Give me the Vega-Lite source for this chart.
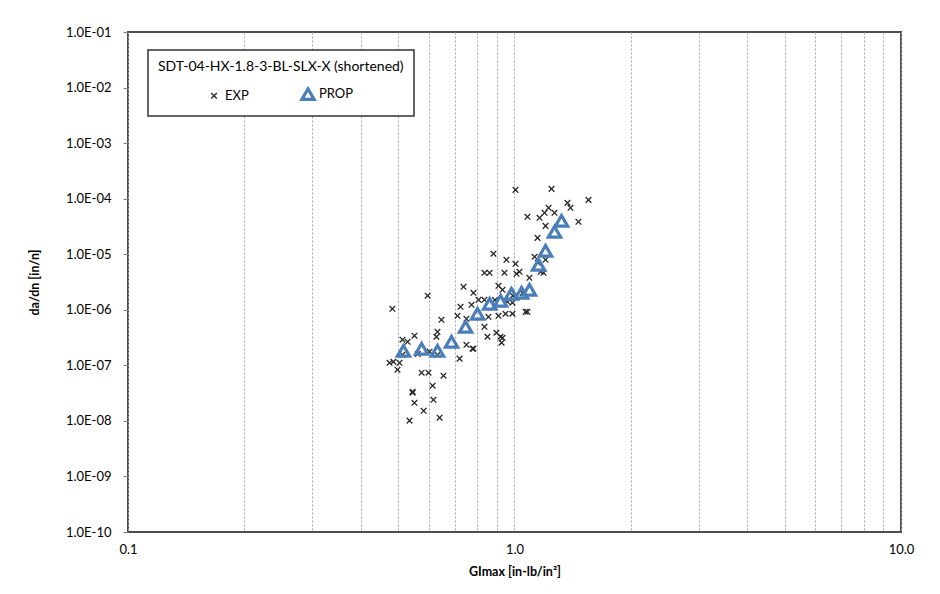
{
  "$schema": "https://vega.github.io/schema/vega-lite/v6.json",
  "autosize": {"type": "none"},
  "width": 773,
  "height": 500,
  "padding": {"left": 128, "top": 32, "right": 39, "bottom": 62},
  "background": "white",
  "config": {
    "font": "Lato",
    "view": {"stroke": "#4d4d4d", "strokeWidth": 2},
    "axis": {"labelFont": "Lato", "titleFont": "Lato", "labelColor": "#000", "titleColor": "#000", "labelFontSize": 13, "titleFontSize": 12.5, "titleFontWeight": "bold"},
    "legend": {
      "orient": "none",
      "legendX": 20,
      "legendY": 18,
      "direction": "horizontal",
      "columns": 2,
      "padding": 10,
      "strokeColor": "#333",
      "strokeWidth": 1.5,
      "fillColor": "white",
      "titleFont": "Lato",
      "titleFontSize": 14,
      "titleFontWeight": "normal",
      "titleColor": "#000",
      "titleLimit": 400,
      "titlePadding": 12,
      "labelFont": "Lato",
      "labelFontSize": 13,
      "labelColor": "#000",
      "symbolOffset": 48,
      "labelOffset": 3,
      "columnPadding": 3
    }
  },
  "data": {
    "values": [
      {"g": 1.006, "dadn": 1.44e-4, "series": "EXP"},
      {"g": 1.247, "dadn": 1.50e-4, "series": "EXP"},
      {"g": 1.554, "dadn": 9.51e-5, "series": "EXP"},
      {"g": 1.371, "dadn": 8.40e-5, "series": "EXP"},
      {"g": 1.396, "dadn": 6.84e-5, "series": "EXP"},
      {"g": 1.080, "dadn": 4.71e-5, "series": "EXP"},
      {"g": 1.161, "dadn": 4.52e-5, "series": "EXP"},
      {"g": 1.196, "dadn": 5.56e-5, "series": "EXP"},
      {"g": 1.225, "dadn": 6.84e-5, "series": "EXP"},
      {"g": 1.269, "dadn": 5.56e-5, "series": "EXP"},
      {"g": 1.464, "dadn": 3.83e-5, "series": "EXP"},
      {"g": 1.203, "dadn": 3.24e-5, "series": "EXP"},
      {"g": 1.147, "dadn": 1.97e-5, "series": "EXP"},
      {"g": 1.127, "dadn": 8.98e-6, "series": "EXP"},
      {"g": 1.203, "dadn": 7.93e-6, "series": "EXP"},
      {"g": 1.168, "dadn": 4.83e-6, "series": "EXP"},
      {"g": 1.189, "dadn": 4.63e-6, "series": "EXP"},
      {"g": 1.150, "dadn": 7.0e-6, "series": "EXP"},
      {"g": 0.882, "dadn": 1.02e-5, "series": "EXP"},
      {"g": 0.953, "dadn": 7.93e-6, "series": "EXP"},
      {"g": 1.006, "dadn": 6.72e-6, "series": "EXP"},
      {"g": 0.836, "dadn": 4.63e-6, "series": "EXP"},
      {"g": 0.862, "dadn": 4.63e-6, "series": "EXP"},
      {"g": 0.942, "dadn": 4.63e-6, "series": "EXP"},
      {"g": 1.012, "dadn": 4.44e-6, "series": "EXP"},
      {"g": 1.030, "dadn": 4.83e-6, "series": "EXP"},
      {"g": 1.093, "dadn": 3.76e-6, "series": "EXP"},
      {"g": 0.909, "dadn": 2.70e-6, "series": "EXP"},
      {"g": 0.931, "dadn": 2.29e-6, "series": "EXP"},
      {"g": 0.738, "dadn": 2.59e-6, "series": "EXP"},
      {"g": 0.783, "dadn": 2.02e-6, "series": "EXP"},
      {"g": 0.596, "dadn": 1.79e-6, "series": "EXP"},
      {"g": 0.807, "dadn": 1.51e-6, "series": "EXP"},
      {"g": 0.836, "dadn": 1.51e-6, "series": "EXP"},
      {"g": 0.890, "dadn": 1.50e-6, "series": "EXP"},
      {"g": 0.990, "dadn": 1.80e-6, "series": "EXP"},
      {"g": 1.050, "dadn": 2.00e-6, "series": "EXP"},
      {"g": 0.725, "dadn": 1.13e-6, "series": "EXP"},
      {"g": 0.774, "dadn": 1.23e-6, "series": "EXP"},
      {"g": 0.712, "dadn": 7.80e-7, "series": "EXP"},
      {"g": 0.856, "dadn": 7.48e-7, "series": "EXP"},
      {"g": 0.909, "dadn": 7.80e-7, "series": "EXP"},
      {"g": 0.948, "dadn": 8.48e-7, "series": "EXP"},
      {"g": 0.988, "dadn": 8.48e-7, "series": "EXP"},
      {"g": 1.068, "dadn": 9.21e-7, "series": "EXP"},
      {"g": 1.080, "dadn": 9.21e-7, "series": "EXP"},
      {"g": 0.483, "dadn": 1.04e-6, "series": "EXP"},
      {"g": 0.647, "dadn": 6.61e-7, "series": "EXP"},
      {"g": 0.751, "dadn": 6.89e-7, "series": "EXP"},
      {"g": 0.959, "dadn": 1.39e-6, "series": "EXP"},
      {"g": 0.988, "dadn": 1.34e-6, "series": "EXP"},
      {"g": 0.836, "dadn": 4.94e-7, "series": "EXP"},
      {"g": 0.898, "dadn": 3.86e-7, "series": "EXP"},
      {"g": 0.920, "dadn": 3.27e-7, "series": "EXP"},
      {"g": 0.931, "dadn": 3.13e-7, "series": "EXP"},
      {"g": 0.926, "dadn": 2.55e-7, "series": "EXP"},
      {"g": 0.851, "dadn": 3.27e-7, "series": "EXP"},
      {"g": 0.751, "dadn": 2.34e-7, "series": "EXP"},
      {"g": 0.779, "dadn": 1.99e-7, "series": "EXP"},
      {"g": 0.783, "dadn": 1.99e-7, "series": "EXP"},
      {"g": 0.632, "dadn": 4.02e-7, "series": "EXP"},
      {"g": 0.628, "dadn": 3.27e-7, "series": "EXP"},
      {"g": 0.551, "dadn": 3.41e-7, "series": "EXP"},
      {"g": 0.529, "dadn": 2.65e-7, "series": "EXP"},
      {"g": 0.513, "dadn": 2.89e-7, "series": "EXP"},
      {"g": 0.513, "dadn": 1.55e-7, "series": "EXP"},
      {"g": 0.632, "dadn": 1.55e-7, "series": "EXP"},
      {"g": 0.562, "dadn": 1.60e-7, "series": "EXP"},
      {"g": 0.475, "dadn": 1.11e-7, "series": "EXP"},
      {"g": 0.486, "dadn": 1.16e-7, "series": "EXP"},
      {"g": 0.498, "dadn": 8.34e-8, "series": "EXP"},
      {"g": 0.504, "dadn": 1.11e-7, "series": "EXP"},
      {"g": 0.603, "dadn": 1.76e-7, "series": "EXP"},
      {"g": 0.721, "dadn": 1.32e-7, "series": "EXP"},
      {"g": 0.575, "dadn": 7.36e-8, "series": "EXP"},
      {"g": 0.599, "dadn": 7.36e-8, "series": "EXP"},
      {"g": 0.655, "dadn": 6.50e-8, "series": "EXP"},
      {"g": 0.614, "dadn": 4.30e-8, "series": "EXP"},
      {"g": 0.545, "dadn": 3.35e-8, "series": "EXP"},
      {"g": 0.545, "dadn": 3.21e-8, "series": "EXP"},
      {"g": 0.617, "dadn": 2.40e-8, "series": "EXP"},
      {"g": 0.551, "dadn": 2.12e-8, "series": "EXP"},
      {"g": 0.582, "dadn": 1.52e-8, "series": "EXP"},
      {"g": 0.640, "dadn": 1.14e-8, "series": "EXP"},
      {"g": 0.535, "dadn": 1.01e-8, "series": "EXP"},
      {"g": 0.516, "dadn": 1.83e-7, "series": "PROP"},
      {"g": 0.575, "dadn": 1.99e-7, "series": "PROP"},
      {"g": 0.632, "dadn": 1.83e-7, "series": "PROP"},
      {"g": 0.687, "dadn": 2.65e-7, "series": "PROP"},
      {"g": 0.747, "dadn": 4.94e-7, "series": "PROP"},
      {"g": 0.802, "dadn": 8.48e-7, "series": "PROP"},
      {"g": 0.862, "dadn": 1.28e-6, "series": "PROP"},
      {"g": 0.920, "dadn": 1.45e-6, "series": "PROP"},
      {"g": 0.982, "dadn": 1.94e-6, "series": "PROP"},
      {"g": 1.043, "dadn": 2.02e-6, "series": "PROP"},
      {"g": 1.093, "dadn": 2.29e-6, "series": "PROP"},
      {"g": 1.154, "dadn": 6.45e-6, "series": "PROP"},
      {"g": 1.203, "dadn": 1.15e-5, "series": "PROP"},
      {"g": 1.269, "dadn": 2.53e-5, "series": "PROP"},
      {"g": 1.323, "dadn": 3.99e-5, "series": "PROP"}
    ]
  },
  "mark": {"type": "point", "filled": false, "opacity": 1, "clip": true},
  "encoding": {
    "x": {
      "field": "g",
      "type": "quantitative",
      "scale": {"type": "log", "domain": [0.1, 10], "nice": false},
      "axis": {
        "title": "GImax [in-lb/in²]",
        "values": [0.1, 0.2, 0.3, 0.4, 0.5, 0.6, 0.7, 0.8, 0.9, 1, 2, 3, 4, 5, 6, 7, 8, 9, 10],
        "labelExpr": "abs(log(datum.value)/LN10 - round(log(datum.value)/LN10)) < 0.001 ? format(datum.value, '.1f') : ''",
        "grid": true,
        "gridColor": "#a6a6a6",
        "gridDash": [2, 2],
        "gridWidth": 1,
        "ticks": false,
        "domain": false,
        "labelPadding": 11,
        "titlePadding": 9,
        "labelFlush": false
      }
    },
    "y": {
      "field": "dadn",
      "type": "quantitative",
      "scale": {"type": "log", "domain": [1e-10, 0.1], "nice": false},
      "axis": {
        "title": "da/dn [in/n]",
        "values": [1e-10, 1e-9, 1e-8, 1e-7, 1e-6, 1e-5, 1e-4, 1e-3, 1e-2, 1e-1],
        "labelExpr": "'1.0E-' + (abs(round(log(datum.value)/LN10)) < 10 ? '0' : '') + abs(round(log(datum.value)/LN10))",
        "grid": false,
        "domain": false,
        "tickSize": 5,
        "tickColor": "#808080",
        "labelPadding": 12,
        "titlePadding": 24,
        "labelFlush": false
      }
    },
    "shape": {
      "field": "series",
      "type": "nominal",
      "title": "SDT-04-HX-1.8-3-BL-SLX-X (shortened)",
      "scale": {"domain": ["EXP", "PROP"], "range": ["M-1,-1L1,1M-1,1L1,-1", "triangle-up"]}
    },
    "color": {
      "field": "series",
      "type": "nominal",
      "title": "SDT-04-HX-1.8-3-BL-SLX-X (shortened)",
      "scale": {"domain": ["EXP", "PROP"], "range": ["#262626", "#4a7ebb"]}
    },
    "size": {
      "field": "series",
      "type": "nominal",
      "title": "SDT-04-HX-1.8-3-BL-SLX-X (shortened)",
      "scale": {"domain": ["EXP", "PROP"], "range": [32, 150]}
    },
    "strokeWidth": {
      "field": "series",
      "type": "nominal",
      "title": "SDT-04-HX-1.8-3-BL-SLX-X (shortened)",
      "scale": {"domain": ["EXP", "PROP"], "range": [1.3, 3.2]}
    }
  }
}
